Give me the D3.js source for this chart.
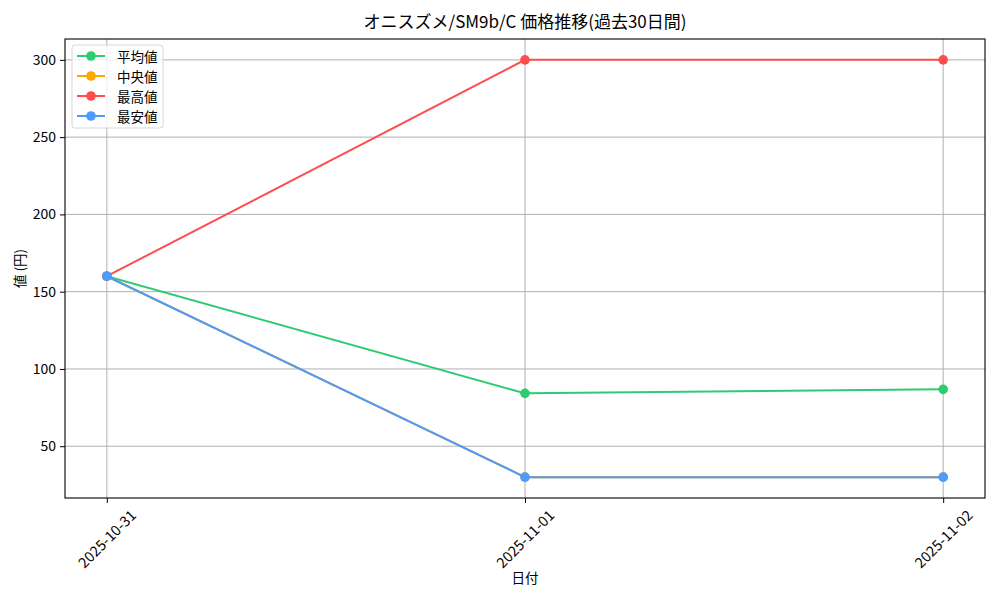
<!DOCTYPE html>
<html>
<head>
<meta charset="utf-8">
<script src="https://cdn.jsdelivr.net/npm/d3@7"></script>
<style>
  body { margin: 0; background: #fff; }
  text { font-family: "Noto Sans CJK JP", "DejaVu Sans", sans-serif; fill: #000; }
</style>
</head>
<body>
<svg id="chart" width="1000" height="600"></svg>
<script>
const dates = ["2025-10-31", "2025-11-01", "2025-11-02"]
const meanVals = [160, 84.2, 86.8]
const medianVals = [160, 30, 30]
const maxVals = [160, 300, 300]
const minVals = [160, 30, 30]
const yTicks = [50, 100, 150, 200, 250, 300]
const seriesNames = ["平均値", "中央値", "最高値", "最安値"]
const seriesColors = ["#2ecc71", "#ffa500", "#ff4d4d", "#4d9bff"]

const series = [meanVals, medianVals, maxVals, minVals].map((values, i) => ({
  name: seriesNames[i],
  color: seriesColors[i],
  values,
}))

// axes box, like the matplotlib figure
const margin = { top: 39, right: 15, bottom: 102, left: 65 }
const width = 1000
const height = 600
const boundedWidth = width - margin.left - margin.right
const boundedHeight = height - margin.top - margin.bottom

const svg = d3.select("#chart")

// matplotlib style 5% padding on both axes
const allVals = series.flatMap(s => s.values)
const yMin = d3.min(allVals)
const yMax = d3.max(allVals)
const yPad = (yMax - yMin) * 0.05
const yScale = d3
  .scaleLinear()
  .domain([yMin - yPad, yMax + yPad])
  .range([boundedHeight, 0])
const xScale = d3
  .scaleLinear()
  .domain([-0.1, dates.length - 1 + 0.1])
  .range([0, boundedWidth])

const bounds = svg
  .append("g")
  .attr("transform", `translate(${margin.left},${margin.top})`)

// grid
bounds
  .append("g")
  .selectAll("line")
  .data(dates)
  .enter()
  .append("line")
  .attr("x1", (d, i) => xScale(i))
  .attr("x2", (d, i) => xScale(i))
  .attr("y1", 0)
  .attr("y2", boundedHeight)
  .attr("stroke", "#b0b0b0")
  .attr("stroke-width", 1)
bounds
  .append("g")
  .selectAll("line")
  .data(yTicks)
  .enter()
  .append("line")
  .attr("x1", 0)
  .attr("x2", boundedWidth)
  .attr("y1", d => yScale(d))
  .attr("y2", d => yScale(d))
  .attr("stroke", "#b0b0b0")
  .attr("stroke-width", 1)

// lines + markers
const lineGen = d3
  .line()
  .x((d, i) => xScale(i))
  .y(d => yScale(d))
series.forEach(s => {
  bounds
    .append("path")
    .datum(s.values)
    .attr("d", lineGen)
    .attr("fill", "none")
    .attr("stroke", s.color)
    .attr("stroke-width", 2)
  bounds
    .append("g")
    .selectAll("circle")
    .data(s.values)
    .enter()
    .append("circle")
    .attr("cx", (d, i) => xScale(i))
    .attr("cy", d => yScale(d))
    .attr("r", 4.8)
    .attr("fill", s.color)
})

// frame
bounds
  .append("rect")
  .attr("width", boundedWidth)
  .attr("height", boundedHeight)
  .attr("fill", "none")
  .attr("stroke", "#000")
  .attr("stroke-width", 1.1)

// axes
const xAxisGen = d3
  .axisBottom(xScale)
  .tickValues(d3.range(dates.length))
  .tickFormat(i => dates[i])
  .tickSize(5)
  .tickPadding(0)
const xAxis = bounds
  .append("g")
  .attr("transform", `translate(0,${boundedHeight})`)
  .call(xAxisGen)
xAxis.select(".domain").remove()
xAxis.selectAll(".tick line").attr("stroke", "#000")
xAxis
  .selectAll(".tick text")
  .attr("font-size", 14.5)
  .attr("text-anchor", "middle")
  .attr("dy", 0)
  .attr("y", 0)
  .attr("transform", "translate(-1,40) rotate(-45)")
  .attr("dominant-baseline", "central")

const yAxisGen = d3.axisLeft(yScale).tickValues(yTicks).tickSize(5).tickPadding(4)
const yAxis = bounds.append("g").call(yAxisGen)
yAxis.select(".domain").remove()
yAxis.selectAll(".tick line").attr("stroke", "#000")
yAxis.selectAll(".tick text").attr("font-size", 14)

// labels
svg
  .append("text")
  .attr("x", margin.left + boundedWidth / 2)
  .attr("y", 28)
  .attr("text-anchor", "middle")
  .attr("font-size", 17)
  .text("オニスズメ/SM9b/C 価格推移(過去30日間)")
svg
  .append("text")
  .attr("x", margin.left + boundedWidth / 2)
  .attr("y", 583)
  .attr("text-anchor", "middle")
  .attr("font-size", 13.5)
  .text("日付")
svg
  .append("text")
  .attr("transform", `translate(25,${margin.top + boundedHeight / 2}) rotate(-90)`)
  .attr("text-anchor", "middle")
  .attr("font-size", 13.5)
  .text("値 (円)")

// legend
const legend = svg.append("g").attr("transform", "translate(72,45)")
legend
  .append("rect")
  .attr("width", 91)
  .attr("height", 83)
  .attr("rx", 3)
  .attr("fill", "rgba(255,255,255,0.8)")
  .attr("stroke", "#d6d6d6")
const items = legend
  .selectAll("g")
  .data(series)
  .enter()
  .append("g")
  .attr("transform", (d, i) => `translate(0,${11 + i * 20})`)
items
  .append("line")
  .attr("x1", 5)
  .attr("x2", 33)
  .attr("stroke", d => d.color)
  .attr("stroke-width", 2)
items
  .append("circle")
  .attr("cx", 19)
  .attr("r", 4.8)
  .attr("fill", d => d.color)
items
  .append("text")
  .attr("x", 45)
  .attr("dominant-baseline", "central")
  .attr("font-size", 13.5)
  .text(d => d.name)
</script>
</body>
</html>
